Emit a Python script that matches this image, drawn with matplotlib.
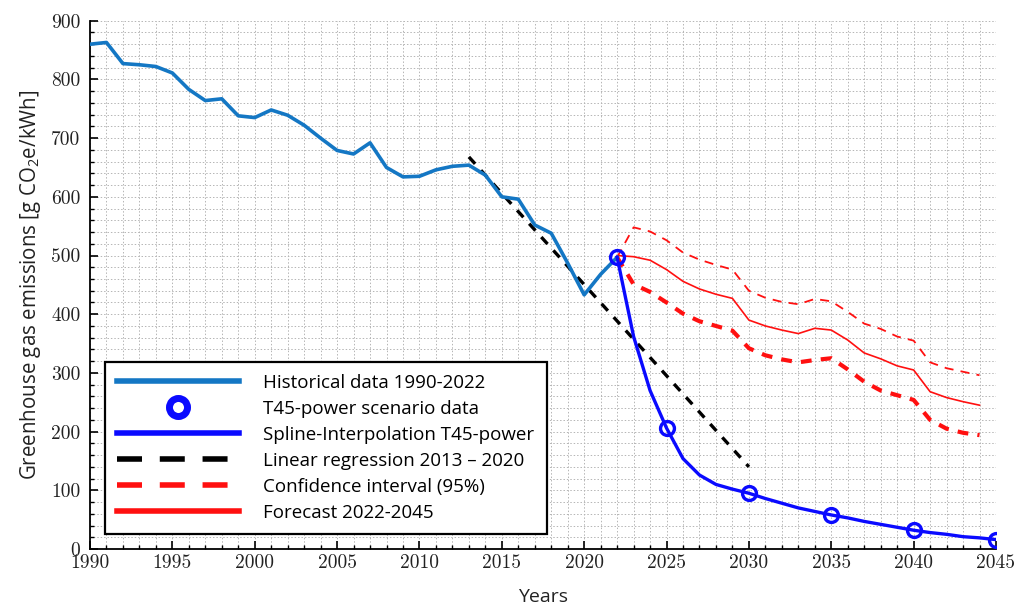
import matplotlib
matplotlib.use("Agg")
import matplotlib.pyplot as plt
from matplotlib.lines import Line2D
from matplotlib.ticker import MultipleLocator, FuncFormatter

# historical emission intensity 1990-2022
hist_years = list(range(1990, 2023))
hist_values = [860, 863, 827, 825, 822, 811, 783, 764, 767, 738, 735, 748, 739,
               722, 700, 679, 673, 692, 650, 634, 635, 646, 652, 654, 637, 600,
               596, 552, 538, 487, 433, 468, 497]

# T45-power scenario points and the spline through them (read yearly)
scen_years = [2022, 2025, 2030, 2035, 2040, 2045]
scen_values = [497, 206, 95, 58, 32, 16]
spline_years = list(range(2022, 2046))
spline_values = [497, 362, 270, 206, 154, 126, 110, 102, 95, 86, 78, 70, 64,
                 58, 53, 47, 42, 37, 32, 28, 25, 21, 19, 16]

# linear regression 2013-2020, extended to 2030
reg_years = [2013, 2030]
reg_values = [668, 140]

# forecast with 95% confidence band
fc_years = list(range(2022, 2045))
fc_values = [500, 498, 492, 476, 456, 443, 434, 427, 390, 380, 373, 367, 376,
             373, 356, 334, 324, 312, 305, 268, 258, 251, 245]
ci_upper = [497, 548, 541, 526, 505, 493, 484, 476, 440, 428, 421, 417, 426,
            422, 404, 384, 375, 362, 355, 318, 308, 302, 296]
ci_lower = [497, 451, 438, 420, 401, 388, 380, 372, 342, 330, 323, 318, 322,
            325, 306, 285, 270, 262, 254, 220, 205, 198, 194]

legend_labels = ["Historical data 1990-2022", "T45-power scenario data",
                 "Spline-Interpolation T45-power", "Linear regression 2013 \u2013 2020",
                 "Confidence interval (95%)", "Forecast 2022-2045"]

HIST = "#1477c4"
BLUE = "#0a0aff"
RED = "#ff1010"
TEXT_FONT = "Open Sans"

fig = plt.figure(figsize=(10.25, 6.1), dpi=100)
ax = fig.add_axes([0.0878, 0.1, 0.8839, 0.866])

ax.plot(fc_years, ci_upper, color=RED, lw=1.3, ls=(0, (5, 4)), zorder=3)
ax.plot(fc_years, ci_lower, color=RED, lw=3.0, ls=(0, (2.6, 2.2)), zorder=3)
ax.plot(fc_years, fc_values, color=RED, lw=1.2, zorder=3)
ax.plot(reg_years, reg_values, color="black", lw=2.4, ls=(0, (2.8, 2.6)), zorder=4)
ax.plot(hist_years, hist_values, color=HIST, lw=2.6, zorder=5)
ax.plot(spline_years, spline_values, color=BLUE, lw=2.4, zorder=6)
ax.plot(scen_years, scen_values, ls="none", marker="o", ms=10, mfc="none",
        mec=BLUE, mew=2.4, zorder=7)

ax.set_xlim(1990, 2045)
ax.set_ylim(0, 900)
ax.xaxis.set_major_locator(MultipleLocator(5))
ax.xaxis.set_minor_locator(MultipleLocator(1))
ax.yaxis.set_major_locator(MultipleLocator(100))
ax.yaxis.set_minor_locator(MultipleLocator(20))
fmt = FuncFormatter(lambda v, p: f"{int(round(v))}")
ax.xaxis.set_major_formatter(fmt)
ax.yaxis.set_major_formatter(fmt)

ax.grid(which="both", color="#b5b5b5", lw=0.7, ls=(0, (1.5, 2.0)))
ax.set_axisbelow(True)
for side in ("top", "right"):
    ax.spines[side].set_visible(False)
for side in ("left", "bottom"):
    ax.spines[side].set_linewidth(1.3)
ax.tick_params(which="major", direction="in", length=6, width=1.2)
ax.tick_params(which="minor", direction="in", length=3, width=1.0)
ax.tick_params(axis="x", which="major", pad=4)
ax.tick_params(axis="y", which="major", pad=7)
for lbl in ax.get_xticklabels() + ax.get_yticklabels():
    lbl.set_fontfamily("cmr10")
    lbl.set_fontsize(14)
    lbl.set_color("#222222")

ax.set_xlabel("Years", family=TEXT_FONT, fontsize=14, labelpad=11, color="#222222")
ax.set_ylabel(r"Greenhouse gas emissions [g CO$\mathregular{_2}$e/kWh]",
              family=TEXT_FONT, fontsize=14.8, labelpad=6, color="#222222")

handles = [
    Line2D([], [], color=HIST, lw=4),
    Line2D([], [], ls="none", marker="o", ms=13, mfc="none", mec=BLUE, mew=5),
    Line2D([], [], color=BLUE, lw=4),
    Line2D([], [], color="black", lw=4, ls=(0, (4.5, 3.2))),
    Line2D([], [], color=RED, lw=4, ls=(0, (4.5, 3.2))),
    Line2D([], [], color=RED, lw=4),
]
leg = ax.legend(handles, legend_labels, loc="lower left",
                bbox_to_anchor=(0.0166, 0.028, 0.488, 0.3), mode="expand",
                borderaxespad=0, fancybox=False, framealpha=1,
                edgecolor="black", handlelength=6.5, handletextpad=1.3,
                labelspacing=0.43, borderpad=0.65,
                prop={"family": TEXT_FONT, "size": 13.5})
leg.get_frame().set_linewidth(1.6)
leg.set_zorder(10)

fig.savefig("out.png", dpi=100)
